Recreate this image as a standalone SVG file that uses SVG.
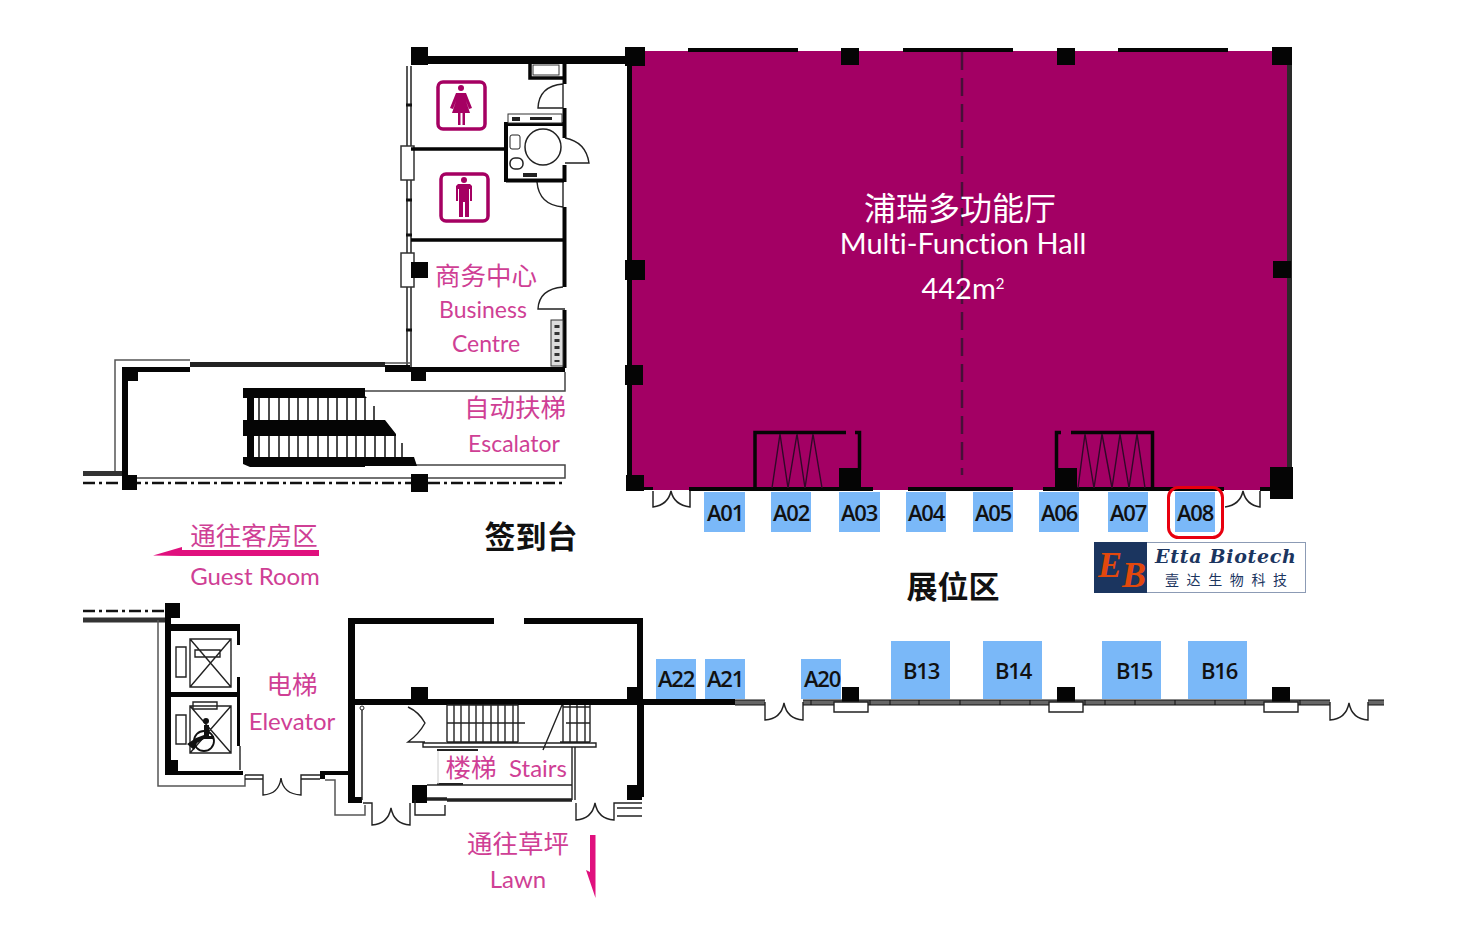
<svg xmlns="http://www.w3.org/2000/svg" width="1464" height="928" viewBox="0 0 1464 928">
<style>
.k{fill:#050505}
.t{fill:none;stroke:#222;stroke-width:1.4}
.g{fill:none;stroke:#555;stroke-width:1.5}
.w{fill:none;stroke:#050505;stroke-width:4}
.l{font-family:Lato,"Noto Sans CJK SC",sans-serif;fill:#cf3f95;text-anchor:middle;font-variant-ligatures:none}
.h{font-family:Lato,"Noto Sans CJK SC",sans-serif;fill:#fff;text-anchor:middle;font-variant-ligatures:none}
.b{fill:#7ab8f8}
.bt{font-family:"Open Sans",sans-serif;font-weight:600;fill:#111;text-anchor:middle;font-size:22px;letter-spacing:-1.2px}
.cn{font-family:"Noto Sans CJK SC",sans-serif;font-weight:700;fill:#111;text-anchor:middle}
.i{fill:none;stroke:#a50062;stroke-width:3.5}
.m{fill:#a50062}
</style>
<rect width="1464" height="928" fill="#fff"/>
<g id="hall">
<rect x="628" y="51" width="662" height="439" fill="#a30064"/>
<path d="M962 52V475" fill="none" stroke="#471038" stroke-width="2.500" stroke-dasharray="18 8"/>
<text class="h" x="960" y="220" font-size="32">浦瑞多功能厅</text>
<text class="h" x="963" y="254" font-size="29">Multi-Function Hall</text>
<text class="h" x="963" y="299" font-size="29">442m<tspan font-size="15" dy="-10">2</tspan></text>
</g>
<g id="hall-walls" class="k">
<rect x="688" y="48" width="110" height="4"/><rect x="903" y="48" width="110" height="4"/><rect x="1118" y="48" width="110" height="4"/>
<rect x="627" y="50" width="5" height="430"/><rect x="1287" y="50" width="5" height="425" fill="#2a2a2a"/>
<rect x="625" y="47" width="20" height="19"/><rect x="841" y="48" width="18" height="17"/><rect x="1057" y="48" width="18" height="17"/><rect x="1272" y="47" width="20" height="18"/>
<rect x="625" y="260" width="20" height="20"/><rect x="1273" y="261" width="18" height="17"/><rect x="625" y="365" width="18" height="20"/>
<rect x="626" y="475" width="18" height="16"/><rect x="689" y="487" width="184" height="4"/><rect x="908" y="487" width="105" height="4"/><rect x="1043" y="487" width="181" height="4"/><rect x="1260" y="487" width="12" height="4"/><rect x="644" y="487" width="9" height="3"/>
<rect x="839" y="468" width="22" height="23"/><rect x="1055" y="468" width="22" height="23"/><rect x="1270" y="467" width="23" height="32"/>
<path d="M755 490V432.500H846M855 432.500H859.500V470M1056.500 470V432.500H1061M1071 432.500H1152.500V490" fill="none" stroke="#050505" stroke-width="3.500"/>
<path d="M772 488L780 434L788 488L797 434L805 488L813 434L822 488M1078 488L1085 434L1094 488L1102 434L1112 488L1120 434L1129 488L1137 434L1145 488" fill="none" stroke="#300828" stroke-width="1.400"/>
<path d="M653 491V507Q668 505 671 491Q674 505 690 507V491M1225 507Q1240 505 1243 491Q1246 505 1260 507V491" fill="none" stroke="#222" stroke-width="1.500"/>
</g>
<g id="booths">
<rect class="b" x="704" y="492" width="41" height="40"/><rect class="b" x="771" y="492" width="40" height="40"/><rect class="b" x="839" y="492" width="41" height="40"/><rect class="b" x="906" y="492" width="40" height="40"/><rect class="b" x="973" y="492" width="40" height="40"/><rect class="b" x="1039" y="492" width="40" height="40"/><rect class="b" x="1108" y="492" width="40" height="40"/><rect class="b" x="1175" y="492" width="40" height="40"/>
<rect class="b" x="656" y="659" width="40" height="40"/><rect class="b" x="705" y="659" width="40" height="40"/><rect class="b" x="801" y="659" width="40" height="40"/>
<rect class="b" x="891" y="641" width="59" height="58"/><rect class="b" x="983" y="641" width="59" height="58"/><rect class="b" x="1102" y="641" width="59" height="58"/><rect class="b" x="1188" y="641" width="59" height="58"/>
<text class="bt" x="725" y="521">A01</text><text class="bt" x="791" y="521">A02</text><text class="bt" x="859" y="521">A03</text><text class="bt" x="926" y="521">A04</text><text class="bt" x="993" y="521">A05</text><text class="bt" x="1059" y="521">A06</text><text class="bt" x="1128" y="521">A07</text><text class="bt" x="1195" y="521">A08</text>
<text class="bt" x="676" y="687">A22</text><text class="bt" x="725" y="687">A21</text><text class="bt" x="822" y="687">A20</text>
<text class="bt" x="921" y="679">B13</text><text class="bt" x="1013" y="679">B14</text><text class="bt" x="1134" y="679">B15</text><text class="bt" x="1219" y="679">B16</text>
<rect x="1168.500" y="487.500" width="54" height="50" rx="10" fill="none" stroke="#e8000f" stroke-width="3"/>
</g>
<g id="logo">
<rect x="1094.500" y="542.500" width="211" height="50" fill="#fff" stroke="#8c9bb5"/>
<rect x="1094" y="542" width="53" height="51" fill="#1b355f"/>
<text x="1098" y="577" font-family="Liberation Serif,serif" font-style="italic" font-weight="700" font-size="36" fill="#e2480d">E<tspan dy="10">B</tspan></text>
<text x="1155" y="563" font-family="DejaVu Serif,serif" font-style="italic" font-weight="700" font-size="19" letter-spacing="0.700" fill="#1b355f">Etta Biotech</text>
<text x="1165" y="585" font-family="Noto Sans CJK SC,sans-serif" font-size="14" letter-spacing="7.600" fill="#1b355f">壹达生物科技</text>
</g>
<g id="restrooms">
<path class="k" d="M411 47H428V56H630V64H428V65H411Z"/>
<path class="g" d="M407 66V370M411 66V370" style="stroke:#222"/>
<path d="M406 105H412M406 200H412M406 235H412M406 330H412" stroke="#111" stroke-width="3" fill="none"/>
<rect x="401" y="146" width="13" height="34" fill="#fff" stroke="#333" stroke-width="1.500"/>
<rect x="401" y="253" width="13" height="34" fill="#fff" stroke="#333" stroke-width="1.500"/>
<rect class="k" x="411" y="262" width="17" height="16"/>
<path class="w" d="M564.500 62V84M564.500 108V138M564.500 165V182M564.500 207V287M564.500 310V368"/>
<path class="w" d="M411 149H505M411 240H564M530 64V78H564" style="stroke-width:3.500"/>
<rect x="533" y="65" width="26" height="10" fill="none" stroke="#333"/>
<path class="t" d="M563 84Q539 86 538 108H563M565 138Q586 142 589 163H565M537 182Q539 205 563 207V182M563 287Q539 289 538 309H565M563 84V108"/>
<path class="w" d="M506 182V124H564M506 180.500H564"/>
<rect x="508" y="114" width="54" height="9" fill="#fff" stroke="#333"/>
<path d="M512 117h8v4h-8zM530 117h22v3h-22z" fill="#222"/>
<circle cx="543" cy="147" r="18" fill="#fff" stroke="#222" stroke-width="1.500"/>
<rect x="510" y="135" width="10" height="14" rx="2" fill="none" stroke="#222"/>
<rect x="510" y="158" width="13" height="11" rx="5" fill="none" stroke="#222" stroke-width="1.500"/>
<rect x="523" y="173" width="14" height="4" fill="#222"/>
<rect x="551" y="320" width="12" height="46" fill="#ddd" stroke="#333"/>
<path d="M557 325V362" stroke="#333" stroke-width="5" stroke-dasharray="3 4" fill="none"/>
<rect class="i" x="438" y="82" width="47" height="47" rx="5"/>
<rect class="i" x="441" y="174" width="47" height="47" rx="5"/>
<g class="m"><circle cx="461" cy="88" r="3"/><path d="M456 93H466L472 108L469 109L466 101L470 113H465V125H462.500V113H460.500V125H458V113H452L456 101L453 109L450 108Z"/>
<circle cx="464" cy="180" r="3"/><path d="M458 184H470L472 186V201H470V189H469V217H465V202H463V217H459V189H458V201H456V186Z"/></g>
<text class="l" x="486" y="285" font-size="25.500">商务中心</text>
<text class="l" x="483" y="318" font-size="23">Business</text>
<text class="l" x="486" y="352" font-size="23">Centre</text>
</g>
<g id="escalator">
<path class="g" d="M115 473V360H190M385 363H410"/>
<path d="M190 362H385V367H190Z" fill="#222"/>
<path class="k" d="M122 367H190V372H138V381H128V476H122ZM385 365H410V367H565V372H411V381H426V372H385Z"/>
<path d="M565 372V391H363M400 465H565V478H137" fill="none" stroke="#444" stroke-width="1.500"/>
<path class="k" d="M243 388H365V396L367 398H243ZM247 398H254V420H247ZM243 420H385L396 434V436H243ZM247 436H254V457H247ZM243 457H414L417 466H365V467H250L243 464Z"/>
<path d="M259 398V420M269 398V420M279 398V420M289 398V420M298 398V420M308 398V420M318 398V420M328 398V420M337 398V420M347 398V420M356 398V420M365 398V420M374 406V420M259 436V457M269 436V457M279 436V457M289 436V457M298 436V457M308 436V457M318 436V457M328 436V457M337 436V457M347 436V457M356 436V457M365 436V457M375 436V457M385 436V457M395 436V457M402 443V457" fill="none" stroke="#111" stroke-width="1.500"/>
<path d="M83 473.500H122" stroke="#333" stroke-width="5" fill="none"/>
<path d="M83 483H565" fill="none" stroke="#111" stroke-width="2.500" stroke-dasharray="12 4 3 4"/>
<rect class="k" x="122" y="475" width="15" height="15"/>
<rect class="k" x="411" y="474" width="17" height="18"/>
<text class="l" x="515" y="417" font-size="25.500">自动扶梯</text>
<text class="l" x="514" y="452" font-size="23">Escalator</text>
</g>
<g id="guest-room">
<text class="l" x="254" y="545" font-size="25.500">通往客房区</text>
<path d="M153 555.500L182 547V550H319V556H182Z" fill="#e0107e"/>
<text class="l" x="255" y="585" font-size="24">Guest Room</text>
</g>
<g id="sign-in"><text class="cn" x="531" y="548" font-size="31">签到台</text></g>
<g id="booth-area"><text class="cn" x="953" y="598" font-size="31">展位区</text></g>
<g id="elevator">
<path d="M83 611H165" fill="none" stroke="#111" stroke-width="2.500" stroke-dasharray="12 4 3 4"/>
<rect class="k" x="165" y="603" width="15" height="15"/>
<path d="M83 620H165" stroke="#333" stroke-width="5" fill="none"/>
<path class="g" d="M158 620V786H245V775"/>
<path class="k" d="M165 618H171V624H240V645H237V631H171V692H240V697H171V760H178V771H243V775H165ZM237 677H240V692H237ZM237 697H240V746H237Z"/>
<path class="t" d="M190 639H231V687H190ZM190 639L231 687M231 639L190 687M190 706H231V753H190ZM190 706L231 753M231 706L190 753M176 647H186V677H176ZM195 650H220V657H195ZM176 715H186V744H176ZM193 702H217V709H193ZM240 746V770"/>
<g fill="#111"><circle cx="206" cy="721" r="3"/><path d="M204 725H209V736H214V739H204L197 743L194 750L187 744L196 738L204 735Z"/></g>
<circle cx="204" cy="741" r="10" fill="none" stroke="#111" stroke-width="1.800"/>
<path class="t" d="M245 775H263V795Q279 794 281 778Q283 794 301 795V775H320M245 779H263M301 779H320"/>
<path class="k" d="M320 771H350V775H325V779H320Z"/>
<path class="g" d="M325 780H335V815H365V805"/>
<text class="l" x="292" y="694" font-size="25.500">电梯</text>
<text class="l" x="292" y="730" font-size="24">Elevator</text>
</g>
<g id="stairs">
<path class="k" d="M348 618H494V624H355V699H735V705H644V797H637V705H355V797H362V803H348ZM524 618H643V699H637V624H524Z"/>
<rect class="k" x="411" y="687" width="17" height="18"/>
<rect class="k" x="627" y="687" width="15" height="13"/>
<rect class="k" x="412" y="785" width="15" height="18"/>
<rect class="k" x="627" y="785" width="15" height="15"/>
<path d="M427 799H447M447 800H572" stroke="#222" stroke-width="3.500" fill="none"/>
<path class="t" d="M362 707V800M408 707Q419 712 425 723Q419 734 408 742H425M423 743H596V747H423ZM447 705V742M454 705V742M461 705V742M469 705V742M476 705V742M483 705V742M491 705V742M498 705V742M505 705V742M513 705V742M518 705V742M447 723H525M563 705V742M570 705V742M577 705V742M585 705V742M590 705V742M566 723H590M562 705L543 750M572 747V800M575 747V800M427 785H572M447 705H518M447 742H518M563 707H590M560 742H590"/>
<path d="M437 749H478V751H437ZM437 783H463V785H437Z" fill="#222"/>
<path d="M438 751V784" stroke="#ccc" fill="none"/>
<circle cx="362" cy="708" r="2" fill="#fff" stroke="#222"/>
<path class="t" d="M363 803H372V825Q388 824 391 808Q394 824 410 825V803M415 800V815H445V805M576 803V820Q592 819 595 803Q598 819 614 820V803H642M617 808H642M617 816H642"/>
<text class="l" x="471" y="777" font-size="25.500">楼梯</text>
<text class="l" x="538" y="777" font-size="24">Stairs</text>
<text class="l" x="518" y="853" font-size="25.500">通往草坪</text>
<text class="l" x="518" y="888" font-size="24">Lawn</text>
<path d="M590 835H595.500V898L586 870L590 872Z" fill="#e0107e"/>
</g>
<g id="south-wall">
<path d="M735 702.500H765M803 702.500H1330M1368 702.500H1384" stroke="#666" stroke-width="5" fill="none"/>
<path d="M735 700H765M803 700H1330M1368 700H1384M735 705H765M803 705H1330M1368 705H1384" stroke="#111" stroke-width="1" fill="none"/>
<path d="M811 700V705M870 700V705M890 700V705M919 700V705M960 700V705M1000 700V705M1030 700V705M1085 700V705M1105 700V705M1135 700V705M1175 700V705M1215 700V705M1245 700V705M1300 700V705" stroke="#111" stroke-width="1" fill="none"/>
<path class="t" d="M765 702V720Q781 719 784 703Q787 719 803 720V702M1330 702V720Q1346 719 1349 703Q1352 719 1368 720V702"/>
<rect class="k" x="842" y="687" width="17" height="15"/><rect class="k" x="1057" y="687" width="18" height="15"/><rect class="k" x="1272" y="687" width="18" height="15"/>
<path class="t" d="M834 702H868V712H834ZM1049 702H1083V712H1049ZM1264 702H1298V712H1264Z" style="fill:#fff"/>
</g>
</svg>
